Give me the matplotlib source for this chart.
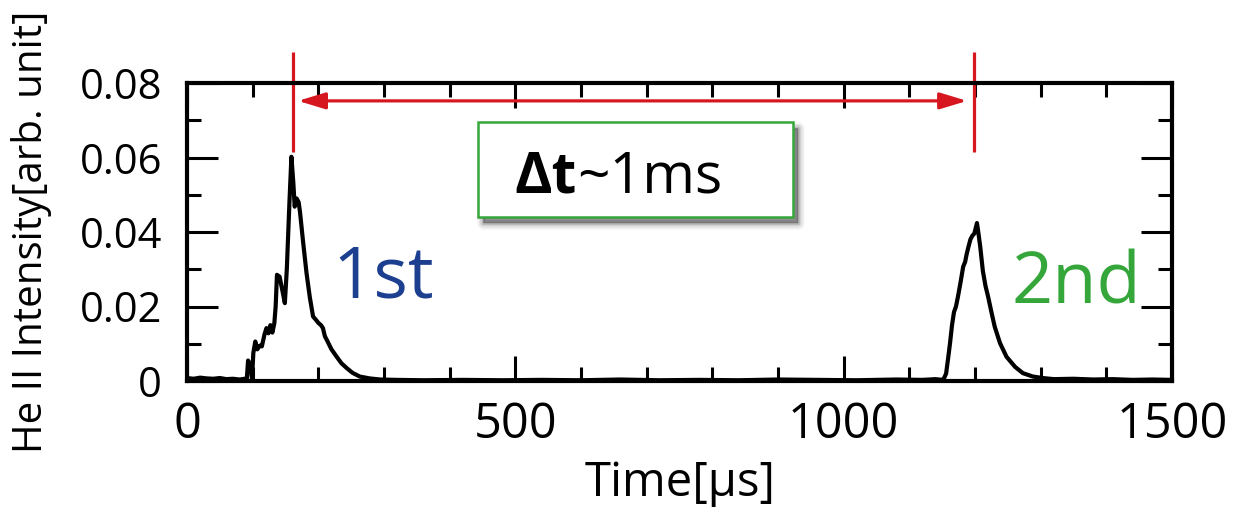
import matplotlib
matplotlib.use("Agg")
import matplotlib.pyplot as plt
from matplotlib.patches import Rectangle
import matplotlib.transforms as mtransforms
import numpy as np

plt.rcParams['font.family'] = ['Open Sans', 'DejaVu Sans']

# ---------------- data ----------------
time_us = [
    0, 10, 20, 30, 40, 50, 60, 70, 80, 88, 91,
    93, 96, 99, 101, 104, 107, 111, 114, 118, 121, 124, 127, 130, 133, 135,
    137, 141, 145, 149, 152, 156, 159, 162, 164, 167, 170, 172, 177, 182,
    187, 192, 196, 200, 204, 207, 210, 213, 220, 228, 235, 243, 252, 263,
    278, 294, 320, 360, 420, 480, 540, 600, 660, 720, 780, 840, 900, 960,
    1020, 1080, 1120, 1140, 1150,
    1153, 1156, 1159, 1162, 1165, 1168, 1171, 1174, 1178, 1182, 1185, 1187,
    1190, 1193, 1196, 1199, 1201, 1203, 1205, 1208, 1212, 1216, 1220, 1225,
    1230, 1238, 1248, 1261, 1273, 1288, 1303, 1320, 1350, 1380, 1410, 1440,
    1470, 1500,
]
intensity = [
    0.0008, 0.0006, 0.0009, 0.0007, 0.0006, 0.0008, 0.0005, 0.0006, 0.0004, 0.0006, 0.0004,
    0.0055, 0.0045, 0.0005, 0.0075, 0.0106, 0.0085, 0.0095, 0.0093, 0.0125, 0.0142, 0.0128, 0.0150, 0.0130, 0.0155, 0.0200,
    0.0285, 0.0280, 0.0245, 0.0209, 0.0300, 0.0480, 0.0602, 0.0530, 0.0468, 0.0490, 0.0480, 0.0455, 0.0370, 0.0290,
    0.0225, 0.0173, 0.0165, 0.0156, 0.0150, 0.0142, 0.0120, 0.0110, 0.0085, 0.0065, 0.0048, 0.0035, 0.0022, 0.0012,
    0.0007, 0.0004, 0.0003, 0.0002, 0.0003, 0.0002, 0.0003, 0.0002, 0.0004, 0.0002, 0.0003, 0.0002, 0.0004, 0.0003,
    0.0002, 0.0004, 0.0003, 0.0005, 0.0003,
    0.0008, 0.0020, 0.0060, 0.0102, 0.0150, 0.0185, 0.0200, 0.0226, 0.0265, 0.0307, 0.0320, 0.0338,
    0.0360, 0.0380, 0.0390, 0.0396, 0.0410, 0.0424, 0.0400, 0.0360, 0.0295, 0.0255, 0.0226, 0.0185,
    0.0146, 0.0102, 0.0065, 0.0038, 0.0021, 0.0012, 0.0008, 0.0005, 0.0006, 0.0004, 0.0005, 0.0003,
    0.0004, 0.0003,
]

x_ticks = [0, 500, 1000, 1500]
x_tick_labels = ["0", "500", "1000", "1500"]
y_ticks = [0, 0.02, 0.04, 0.06, 0.08]
y_tick_labels = ["0", "0.02", "0.04", "0.06", "0.08"]

peak_times = [161, 1198]          # red marker lines
arrow_span = [169, 1188]          # double arrow end points
arrow_level = 0.0752
delta_label = "~1ms"
pulse_labels = ["1st", "2nd"]

RED = "#d7171f"
BLUE = "#1d3f8f"
GREEN = "#34a63a"

# ---------------- figure ----------------
W, H = 1234, 507
fig = plt.figure(figsize=(W / 100, H / 100), dpi=100)
ax = fig.add_axes([187 / W, 1 - 381 / H, 985 / W, 298 / H])

ax.plot(time_us, intensity, color="black", lw=3.0, solid_joinstyle="round")

ax.set_xlim(0, 1500)
ax.set_ylim(0, 0.08)
ax.set_xticks(x_ticks)
ax.set_xticklabels(x_tick_labels)
ax.set_xticks(np.arange(0, 1501, 100), minor=True)
ax.set_yticks(y_ticks)
ax.set_yticklabels(y_tick_labels)
ax.set_yticks(np.arange(0, 0.0801, 0.01), minor=True)

for s in ax.spines.values():
    s.set_linewidth(3.0)
ax.tick_params(which="both", direction="in", top=True, right=True, width=2.2)
ax.tick_params(axis="x", which="major", length=18, pad=14)
ax.tick_params(axis="y", which="major", length=22, pad=18)
ax.tick_params(which="minor", length=10)
for lab in ax.get_xticklabels():
    lab.set_fontsize(35)
for lab in ax.get_yticklabels():
    lab.set_fontsize(30)

fig.text(32 / W, 1 - 232 / H, "He II Intensity[arb. unit]", rotation=90,
         ha="center", va="center", fontsize=29)
fig.text(680 / W, 1 - 496 / H, "Time[µs]", ha="center", va="baseline", fontsize=34)

# red markers and arrow
for t in peak_times:
    ax.plot([t, t], [0.0615, 0.0883], color=RED, lw=2.3, clip_on=False,
            solid_capstyle="butt")
ax.annotate("", xy=(arrow_span[1], arrow_level), xytext=(arrow_span[0], arrow_level),
            arrowprops=dict(arrowstyle="<|-|>,head_length=1.65,head_width=0.5",
                            color=RED, lw=2.3, shrinkA=0, shrinkB=0,
                            mutation_scale=10))

# boxed label with soft shadow
bx0, bx1, by0, by1 = 443, 923, 0.0441, 0.0695
for i, a in enumerate([0.04, 0.06, 0.08, 0.11, 0.15]):
    grow = (4 - i) * 1.5
    tr = mtransforms.offset_copy(ax.transData, fig=fig, x=5, y=-6, units="dots")
    ax.add_patch(Rectangle((bx0, by0), bx1 - bx0, by1 - by0, transform=tr,
                           facecolor="black", edgecolor="black",
                           lw=grow * 1.5, alpha=a, zorder=4, joinstyle="round"))
ax.add_patch(Rectangle((bx0, by0), bx1 - bx0, by1 - by0, facecolor="white",
                       edgecolor=GREEN, lw=1.8, zorder=5))
t1 = ax.text(499, 0.0505, "Δt", fontsize=41, fontweight="bold", va="baseline",
             ha="left", zorder=6)
ax.annotate(delta_label, xy=(1, 0), xycoords=t1, va="bottom", ha="left",
            fontsize=41, zorder=6, annotation_clip=False)

ax.text(222, 0.02255, pulse_labels[0], color=BLUE, fontsize=52, va="baseline", ha="left")
ax.text(1256, 0.0209, pulse_labels[1], color=GREEN, fontsize=52, va="baseline", ha="left")

fig.savefig("out.png", dpi=100)
